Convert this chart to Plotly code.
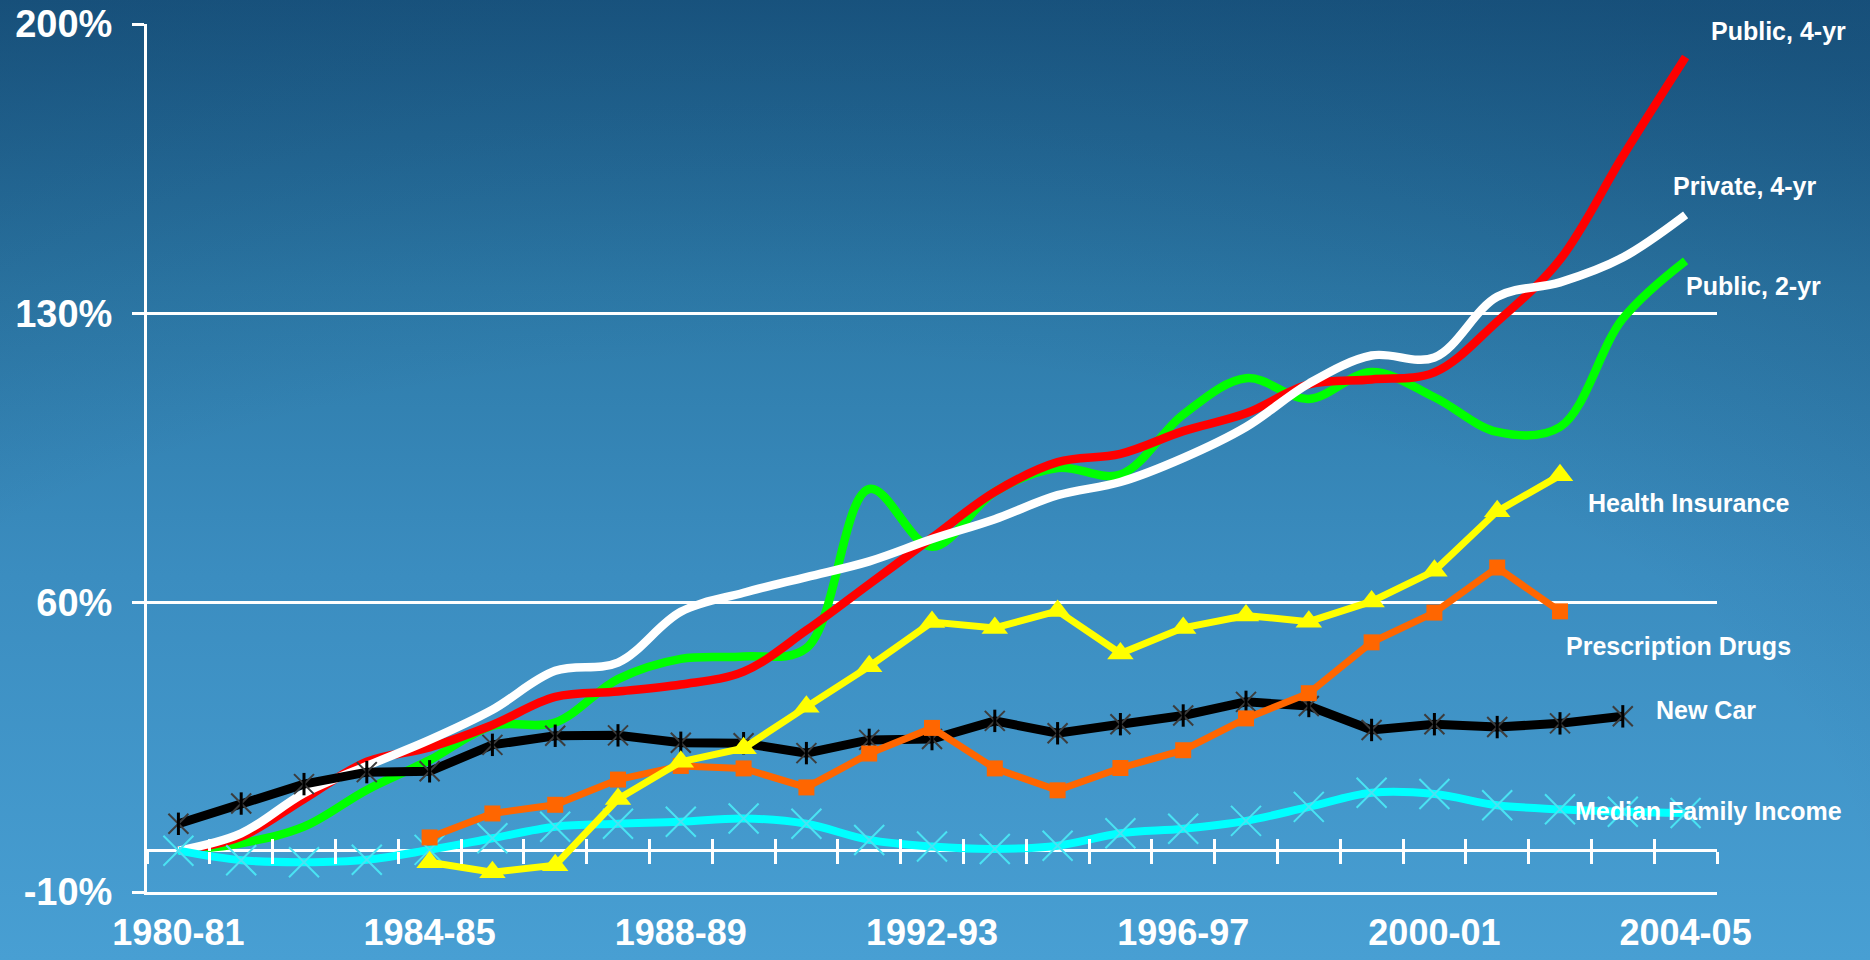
import base64
import plotly.graph_objects as go

# ---------------- data ----------------
years = ["1980-81", "1981-82", "1982-83", "1983-84", "1984-85", "1985-86", "1986-87",
         "1987-88", "1988-89", "1989-90", "1990-91", "1991-92", "1992-93", "1993-94",
         "1994-95", "1995-96", "1996-97", "1997-98", "1998-99", "1999-00", "2000-01",
         "2001-02", "2002-03", "2003-04", "2004-05"]
tick_years = ["1980-81", "1984-85", "1988-89", "1992-93", "1996-97", "2000-01", "2004-05"]
y_ticks = [-10, 60, 130, 200]

public_4yr = [0, 3.4, 12.5, 21.5, 25.0, 30.4, 37.2, 38.5, 40.2, 43.3, 53.3, 64.5, 75.7,
              86.8, 94.0, 96.0, 101.5, 105.8, 112.8, 114.0, 115.7, 128.0, 143.0, 168.0, 192.0]
private_4yr = [0, 4.2, 13.9, 20.5, 26.8, 34.1, 43.5, 45.5, 57.8, 62.4, 66.2, 70.0, 75.4,
               80.2, 86.0, 89.2, 95.0, 102.5, 113.0, 119.8, 119.3, 134.0, 137.5, 143.5, 153.8]
public_2yr = [0, 1.8, 5.8, 14.7, 21.9, 30.2, 31.0, 41.5, 46.4, 47.0, 49.0, 87.5, 73.5,
              86.8, 92.6, 91.0, 105.5, 114.3, 109.3, 115.8, 109.7, 101.3, 102.5, 128.7, 142.7]
health_ins = [None, None, None, None, -2.8, -5.2, -3.5, 12.5, 21.5, 24.8, 34.8, 44.6, 55.3,
              53.9, 58.0, 47.7, 53.9, 56.9, 55.4, 60.3, 67.7, 82.1, 90.8, None, None]
rx_drugs = [None, None, None, None, 3.2, 9.0, 11.1, 17.2, 20.5, 19.9, 15.3, 23.5, 29.7,
            19.9, 14.6, 20.0, 24.3, 32.0, 38.1, 50.4, 57.6, 68.5, 57.9, None, None]
new_car = [6.5, 11.4, 16.1, 19.0, 19.2, 25.6, 27.8, 27.9, 26.1, 26.0, 23.6, 26.8, 27.0,
           31.4, 28.4, 30.6, 32.7, 36.0, 35.0, 29.2, 30.6, 29.9, 30.8, 32.5, None]
median_income = [0, -2.3, -2.8, -2.2, 0.2, 3.0, 5.8, 6.5, 7.0, 7.8, 6.5, 2.6, 1.0,
                 0.4, 1.2, 4.2, 5.3, 7.2, 10.6, 14.0, 13.7, 11.0, 10.0, 9.4, 9.1]

labels = ["Public, 4-yr", "Private, 4-yr", "Public, 2-yr", "Health Insurance",
          "Prescription Drugs", "New Car", "Median Family Income"]
# label anchor positions (category index, percent)
label_pos = [(24.38, 198.4), (23.76, 160.7), (23.97, 136.5), (22.42, 84.2),
             (22.07, 49.6), (23.50, 34.0), (22.20, 9.5)]

# ---------------- layout geometry ----------------
W, H = 1870, 960
ML, MR, MT, MB = 147, 153, 24, 68
PW, PH = W - ML - MR, H - MT - MB
YMIN, YMAX = -10, 200
FONT = "Liberation Sans, Arial, Helvetica, sans-serif"

svg = f'''<svg xmlns="http://www.w3.org/2000/svg" width="{W}" height="{H}" viewBox="0 0 {W} {H}" preserveAspectRatio="none">
<defs><linearGradient id="g" x1="0" y1="0" x2="0" y2="1">
<stop offset="0" stop-color="#1c5c88"/>
<stop offset="0.3" stop-color="#2d7aa8"/>
<stop offset="0.6" stop-color="#3b8dc0"/>
<stop offset="1" stop-color="#489fd3"/>
</linearGradient>
<radialGradient id="r" cx="0.42" cy="0.95" r="1.05">
<stop offset="0.55" stop-color="#0a2f55" stop-opacity="0"/>
<stop offset="1" stop-color="#0a2f55" stop-opacity="0.28"/>
</radialGradient></defs>
<rect width="{W}" height="{H}" fill="url(#g)"/>
<rect width="{W}" height="{H}" fill="url(#r)"/>
</svg>'''
bg_src = "data:image/svg+xml;base64," + base64.b64encode(svg.encode()).decode()

fig = go.Figure()


def add_line(values, color, width, shape, **kw):
    fig.add_trace(go.Scatter(x=years, y=values, mode=kw.pop("mode", "lines"),
                             line=dict(color=color, width=width, shape=shape, smoothing=1),
                             connectgaps=False, showlegend=False, hoverinfo="skip", **kw))


add_line(public_2yr, "#00ff00", 8.5, "spline")
add_line(public_4yr, "#ff0000", 8.5, "spline")
add_line(private_4yr, "#ffffff", 8.5, "spline")
add_line(new_car, "#000000", 9, "linear", mode="lines+markers",
         marker=dict(symbol="x-thin-open", size=20, color="#3c3c3c",
                     line=dict(width=2, color="#3c3c3c")))
fig.add_trace(go.Scatter(x=years, y=new_car, mode="markers", showlegend=False, hoverinfo="skip",
                         marker=dict(symbol="line-ns-open", size=16, color="#000000",
                                     line=dict(width=3, color="#000000"))))
add_line(median_income, "#00ffff", 8, "spline", mode="lines+markers",
         marker=dict(symbol="x-thin-open", size=30, color="#4ae3f3",
                     line=dict(width=2, color="#4ae3f3")))
add_line(rx_drugs, "#ff6600", 7, "linear", mode="lines+markers",
         marker=dict(symbol="square", size=16, color="#ff6600", line=dict(width=0)))
add_line(health_ins, "#ffff00", 7, "linear", mode="lines+markers",
         marker=dict(symbol="triangle-up", size=23, color="#ffff00", line=dict(width=0)))

# helper (empty) traces so the tick-only axes exist
for ax in ("x2", "x3"):
    fig.add_trace(go.Scatter(x=list(range(len(years))), y=[None] * len(years), xaxis=ax,
                             yaxis="y", showlegend=False, hoverinfo="skip", mode="lines"))

for text, (lx, ly) in zip(labels, label_pos):
    fig.add_annotation(x=lx, y=ly, xref="x", yref="y", text=text, showarrow=False,
                       xanchor="left", yanchor="middle",
                       font=dict(family=FONT, size=25, color="white", weight="bold"))

zero_pos = (0 - YMIN) / (YMAX - YMIN)
boundaries = [i - 0.5 for i in range(len(years) + 1)]
tick_axis = dict(overlaying="x", anchor="free", position=zero_pos, range=[-0.5, len(years) - 0.5],
                 tickmode="array", tickvals=boundaries, ticklen=12, tickwidth=2.5,
                 tickcolor="white", showticklabels=False, showgrid=False, zeroline=False,
                 showline=False, side="bottom", fixedrange=True, automargin=False)

fig.update_layout(
    width=W, height=H,
    margin=dict(l=ML, r=MR, t=MT, b=MB, pad=0, autoexpand=False),
    paper_bgcolor="#2f7fb0", plot_bgcolor="rgba(0,0,0,0)",
    font=dict(family=FONT, color="white"),
    images=[dict(source=bg_src, xref="paper", yref="paper", x=-ML / PW, y=1 + MT / PH,
                 sizex=W / PW, sizey=H / PH, xanchor="left", yanchor="top",
                 sizing="stretch", layer="below")],
    xaxis=dict(type="category", categoryorder="array", categoryarray=years,
               range=[-0.5, len(years) - 0.5], tickmode="array", tickvals=tick_years,
               ticks="", showgrid=False, zeroline=False, showline=True, linecolor="white",
               linewidth=2.5, automargin=False,
               tickfont=dict(family=FONT, size=36, color="white", weight="bold"),
               ticklabelstandoff=7),
    xaxis2=dict(tick_axis, ticks="outside"),
    xaxis3=dict(tick_axis, ticks="inside"),
    yaxis=dict(range=[YMIN, YMAX], tickmode="array", tickvals=y_ticks,
               ticktext=[f"{v}%" for v in y_ticks], ticks="outside", ticklen=12,
               tickwidth=2.5, tickcolor="white", showgrid=True, gridcolor="white",
               gridwidth=2.5, zeroline=True, zerolinecolor="white", zerolinewidth=2.5,
               showline=True, linecolor="white", linewidth=3, automargin=False,
               tickfont=dict(family=FONT, size=38, color="white", weight="bold"),
               ticklabelstandoff=12),
)

fig.write_html("out.html", config={"displayModeBar": False},
               post_script="document.body.style.margin='0';document.body.style.overflow='hidden';")
